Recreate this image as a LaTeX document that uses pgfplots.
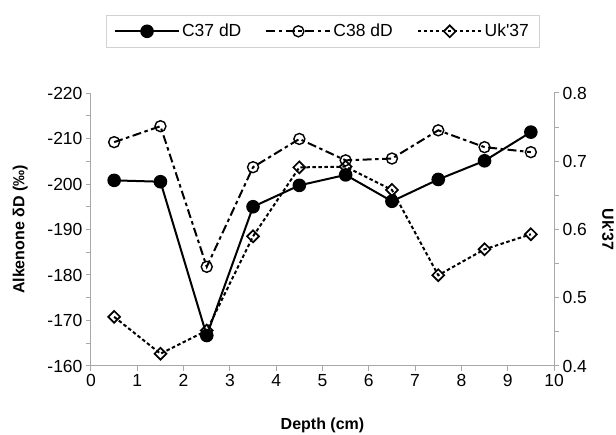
\documentclass[border=0pt]{standalone}
\usepackage{fontspec}
\setmainfont{Liberation Sans}
\usepackage{pgfplots}
\pgfplotsset{compat=1.18}
\definecolor{axisgray}{HTML}{A8A8A8}

\pgfplotsset{
  common/.style={
    scale only axis, width=463pt, height=273pt,
    at={(91pt,69pt)}, anchor=south west,
    xmin=0, xmax=10,
    tick align=outside,
    axis line style={axisgray, line width=1pt, -},
    every tick/.style={axisgray, line width=1pt},
    major tick length=5pt, minor tick length=5pt,
    tick label style={font=\fontsize{17.5}{18}\selectfont, black},
    /pgf/number format/assume math mode=true,
    label style={font=\fontsize{16}{16}\selectfont\bfseries},
  },
}

\begin{document}
\begin{tikzpicture}
\path[use as bounding box] (0,0) rectangle (616pt,435pt);

\begin{axis}[common,
  axis x line*=bottom, axis y line*=left,
  ymin=-220, ymax=-160, y dir=reverse,
  ytick={-220,-210,-200,-190,-180,-170,-160}, minor y tick num=1,
  xtick={0,1,2,3,4,5,6,7,8,9,10},
  xlabel={Depth (cm)}, ylabel={Alkenone δD (‰)},
  xlabel style={at={(axis description cs:0.5,-0.216)}, anchor=center},
  ylabel style={at={(axis description cs:-0.153,0.5)}, anchor=center},
  legend columns=3,
  legend style={at={(axis description cs:0.5,1.226)}, anchor=center,
    draw=gray!35, line width=0.8pt, font=\fontsize{17.5}{18}\selectfont,
    /tikz/every even column/.append style={column sep=22pt},
    inner xsep=8pt, inner ysep=7pt},
  legend image code/.code={\draw[mark repeat=2,mark phase=2] plot coordinates {(0pt,0pt)(32pt,0pt)(64pt,0pt)};},
]
\addplot[black, line width=2pt, mark=*, mark size=5.8pt] coordinates {
 (0.5,-200.8) (1.5,-200.5) (2.5,-166.7) (3.5,-195.0) (4.5,-199.7)
 (5.5,-202.0) (6.5,-196.2) (7.5,-201.0) (8.5,-205.1) (9.5,-211.4)};
\addlegendentry{C37 dD}
\addplot[black, line width=2pt, dash pattern=on 9pt off 3.5pt on 3.5pt off 3.5pt,
  mark=o, mark size=5.5pt, mark options={solid, line width=1.4pt}] coordinates {
 (0.5,-209.2) (1.5,-212.7) (2.5,-181.8) (3.5,-203.7) (4.5,-209.9)
 (5.5,-205.2) (6.5,-205.6) (7.5,-211.8) (8.5,-208.1) (9.5,-207.0)};
\addlegendentry{C38 dD}
\addlegendimage{black, line width=2pt, dash pattern=on 3.5pt off 2.5pt,
  mark=square, mark size=4.2pt, mark options={solid, rotate=45, line width=1.7pt}}
\addlegendentry{Uk\textquotesingle 37}
\end{axis}

\begin{axis}[common,
  axis x line=none, axis y line*=right,
  ymin=0.4, ymax=0.8,
  ytick={0.4,0.5,0.6,0.7,0.8}, minor y tick num=1,
  yticklabel style={/pgf/number format/.cd, fixed, fixed zerofill, precision=1},
  ylabel={Uk\textquotesingle 37},
  ylabel style={at={(axis description cs:1.117,0.5)}, anchor=center, rotate=180},
]
\addplot[black, line width=2pt, dash pattern=on 3.5pt off 2.5pt,
  mark=square, mark size=4.2pt, mark options={solid, rotate=45, line width=1.7pt}] coordinates {
 (0.5,0.472) (1.5,0.418) (2.5,0.452) (3.5,0.590) (4.5,0.691)
 (5.5,0.692) (6.5,0.658) (7.5,0.533) (8.5,0.571) (9.5,0.593)};
\end{axis}
\end{tikzpicture}
\end{document}
